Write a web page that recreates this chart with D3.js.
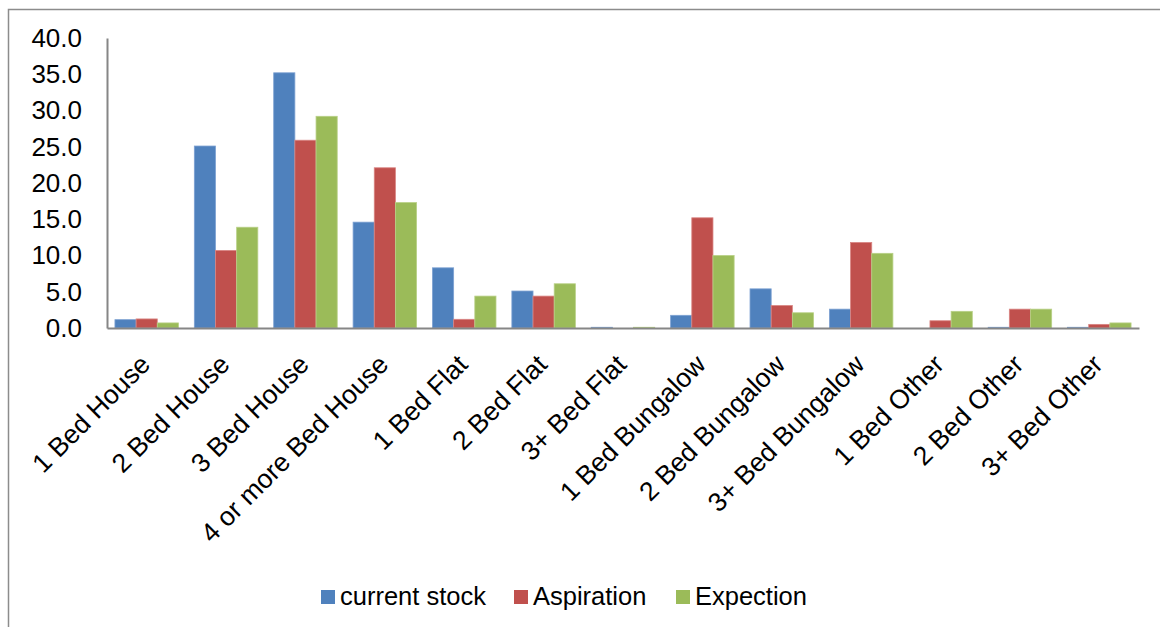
<!DOCTYPE html>
<html>
<head>
<meta charset="utf-8">
<script src="https://cdn.jsdelivr.net/npm/d3@7"></script>
<style>
  body { margin: 0; background: #fff; }
  svg { display: block; font-family: "Liberation Sans", Arial, sans-serif; }
</style>
</head>
<body>
<svg id="chart" width="1160" height="627"></svg>
<script>
const categories = ['1 Bed House', '2 Bed House', '3 Bed House', '4 or more Bed House',
  '1 Bed Flat', '2 Bed Flat', '3+ Bed Flat', '1 Bed Bungalow', '2 Bed Bungalow',
  '3+ Bed Bungalow', '1 Bed Other', '2 Bed Other', '3+ Bed Other'];
const seriesNames = ['current stock', 'Aspiration', 'Expection'];
const currentStock = [1.15, 25.1, 35.2, 14.6, 8.3, 5.1, 0.1, 1.75, 5.4, 2.6, 0.0, 0.1, 0.1];
const aspiration = [1.25, 10.7, 25.9, 22.1, 1.2, 4.4, 0.0, 15.2, 3.1, 11.8, 1.0, 2.6, 0.5];
const expection = [0.7, 13.9, 29.2, 17.3, 4.4, 6.1, 0.1, 10.0, 2.1, 10.3, 2.3, 2.6, 0.7];
const yTicks = [0, 5, 10, 15, 20, 25, 30, 35, 40];

const colors = ['#4f81bd', '#c0504d', '#9bbb59'];
const outlines = ['#7da1d2', '#d98583', '#b8d086'];
const values = [currentStock, aspiration, expection];

const svg = d3.select('#chart');
const plotLeft = 107, plotRight = 1139, plotTop = 38, plotBottom = 328;

/* outer frame */
svg.append('rect')
  .attr('x', 8.5).attr('y', 9.5)
  .attr('width', 1200).attr('height', 700)
  .attr('fill', 'none').attr('stroke', '#8c8c8c').attr('stroke-width', 1.5);

const x = d3.scaleBand().domain(categories).range([plotLeft, plotRight]).paddingInner(0.2).paddingOuter(0.1);
const x1 = d3.scaleBand().domain(seriesNames).range([0, x.bandwidth()]);
const y = d3.scaleLinear().domain([0, 40]).range([plotBottom, plotTop]);

/* bars */
seriesNames.forEach((s, i) => {
  svg.append('g').selectAll('rect')
    .data(categories)
    .join('rect')
    .attr('x', c => x(c) + x1(s))
    .attr('y', (c, j) => y(values[i][j]))
    .attr('width', x1.bandwidth())
    .attr('height', (c, j) => plotBottom - y(values[i][j]))
    .attr('fill', colors[i])
    .attr('stroke', outlines[i])
    .attr('stroke-width', 0.8);
});

/* y axis */
const yAxis = svg.append('g')
  .attr('transform', `translate(${plotLeft},0)`)
  .call(d3.axisLeft(y).tickValues(yTicks).tickFormat(d3.format('.1f')).tickSize(0).tickPadding(25));
yAxis.select('.domain').attr('stroke', '#868686').attr('stroke-width', 2);
yAxis.selectAll('text').attr('font-size', 26).attr('fill', '#000').attr('font-family', 'Liberation Sans, Arial, sans-serif');

/* x axis */
const xAxis = svg.append('g')
  .attr('transform', `translate(0,${plotBottom})`)
  .call(d3.axisBottom(x).tickSize(0).tickPadding(0));
xAxis.select('.domain').attr('stroke', '#868686').attr('stroke-width', 2);
xAxis.selectAll('text')
  .attr('font-size', 26.5).attr('fill', '#000').attr('font-family', 'Liberation Sans, Arial, sans-serif')
  .attr('text-anchor', 'end')
  .attr('y', 0)
  .attr('dy', 0)
  .attr('transform', 'translate(5,38) rotate(-45)');

/* legend */
const legendX = [321, 514, 676];
const legend = svg.append('g');
seriesNames.forEach((s, i) => {
  legend.append('rect')
    .attr('x', legendX[i]).attr('y', 590)
    .attr('width', 14).attr('height', 14)
    .attr('fill', colors[i]);
  legend.append('text')
    .attr('x', legendX[i] + 19).attr('y', 605)
    .attr('font-size', 25.5)
    .text(s);
});
</script>
</body>
</html>
